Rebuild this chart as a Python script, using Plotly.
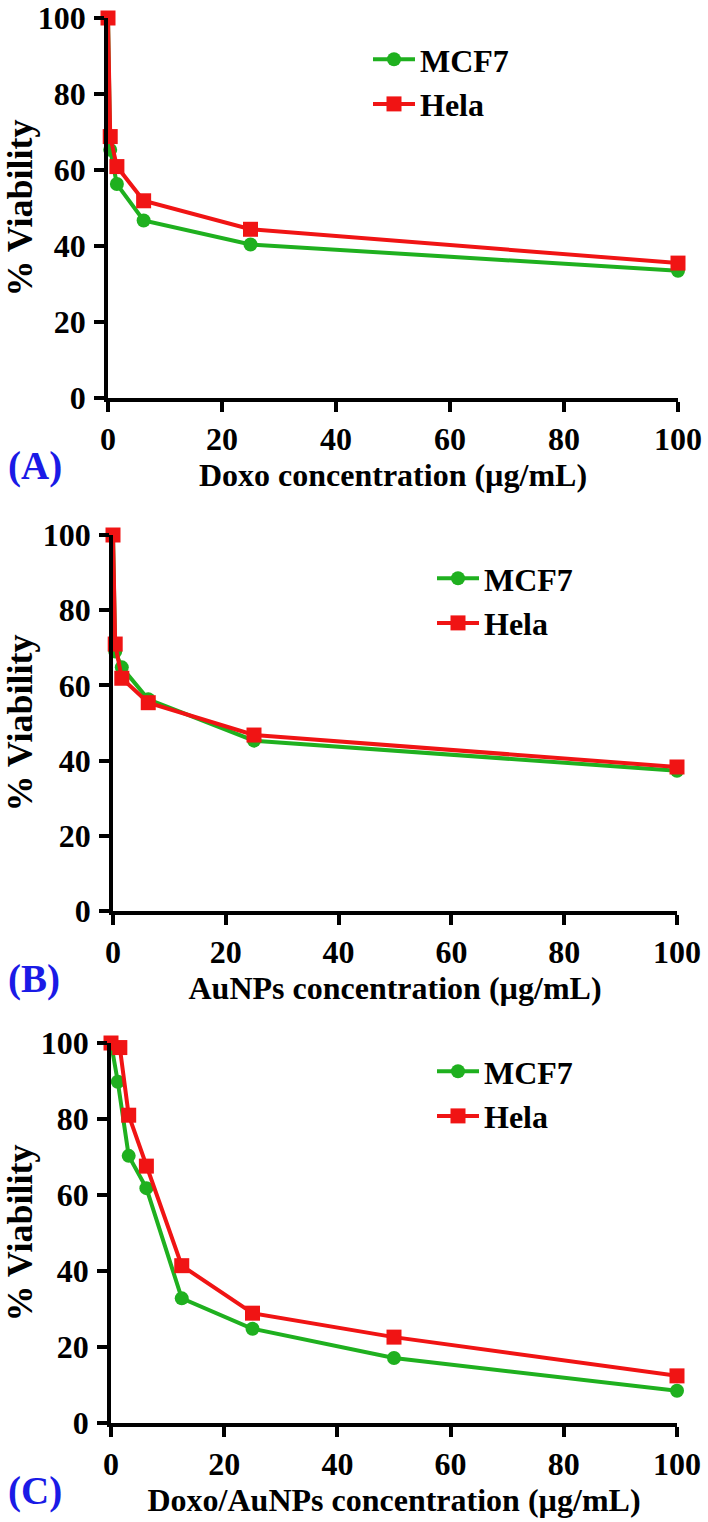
import plotly.graph_objects as go

# ---------------- data ----------------
conc_a = [0, 0.39, 1.56, 6.25, 25, 100]
mcf7_a = [100, 65.3, 56.3, 46.7, 40.4, 33.5]
hela_a = [100, 68.8, 60.9, 51.9, 44.4, 35.5]

conc_b = [0, 0.39, 1.56, 6.25, 25, 100]
mcf7_b = [100, 69.0, 64.8, 56.3, 45.3, 37.3]
hela_b = [100, 71.0, 61.9, 55.4, 46.8, 38.3]

conc_c_mcf7 = [0, 1.2, 3.125, 6.25, 12.5, 25, 50, 100]
mcf7_c = [100, 89.8, 70.3, 61.8, 32.8, 24.8, 17.1, 8.5]
conc_c_hela = [0, 1.56, 3.125, 6.25, 12.5, 25, 50, 100]
hela_c = [100, 98.8, 81.0, 67.6, 41.4, 28.9, 22.6, 12.4]

x_titles = ["Doxo concentration (µg/mL)", "AuNPs concentration (µg/mL)",
            "Doxo/AuNPs concentration (µg/mL)"]
panel_labels = ["(A)", "(B)", "(C)"]
series_names = ["MCF7", "Hela"]
y_ticks = [0, 20, 40, 60, 80, 100]
x_ticks = [0, 20, 40, 60, 80, 100]

# ---------------- style ----------------
W, H = 708, 1522
FONT = "Liberation Serif, Times New Roman, serif"
GREEN = "#1FB01F"
RED = "#F01414"
BLUE = "#1A1AE6"

def py(p):
    return 1 - p / H

def px(p):
    return p / W

panels = [
    dict(top=18, bottom=398, left=108, right=678, leg_x=368, leg_y=32),
    dict(top=535, bottom=911, left=113, right=677, leg_x=432, leg_y=551),
    dict(top=1043, bottom=1423, left=111, right=677, leg_x=432, leg_y=1044),
]

data = [
    (conc_a, mcf7_a, conc_a, hela_a),
    (conc_b, mcf7_b, conc_b, hela_b),
    (conc_c_mcf7, mcf7_c, conc_c_hela, hela_c),
]

fig = go.Figure()
layout = dict(
    width=W, height=H,
    margin=dict(l=0, r=0, t=0, b=0, autoexpand=False),
    paper_bgcolor="white", plot_bgcolor="white",
    font=dict(family=FONT, color="black"),
    showlegend=True,
)
annotations = []

for i, (p, (xm, ym, xh, yh)) in enumerate(zip(panels, data)):
    n = "" if i == 0 else str(i + 1)
    xa, ya = "x" + n, "y" + n
    leg = "legend" + n
    fig.add_trace(go.Scatter(
        x=xm, y=ym, name=series_names[0], mode="lines+markers",
        line=dict(color=GREEN, width=4),
        marker=dict(symbol="circle", size=14, color=GREEN),
        xaxis=xa, yaxis=ya, legend=leg, legendgroup="m" + n,
        cliponaxis=False,
    ))
    fig.add_trace(go.Scatter(
        x=xh, y=yh, name=series_names[1], mode="lines+markers",
        line=dict(color=RED, width=4),
        marker=dict(symbol="square", size=15, color=RED),
        xaxis=xa, yaxis=ya, legend=leg, legendgroup="h" + n,
        cliponaxis=False,
    ))
    axis_common = dict(
        showline=True, linewidth=3.5, linecolor="black",
        ticks="outside", ticklen=10, tickwidth=3.5, tickcolor="black",
        showgrid=False, zeroline=False, automargin=False,
        tickfont=dict(family=FONT, size=32, weight="bold", color="black"),
        range=[0, 100],
    )
    layout["xaxis" + n] = dict(
        axis_common,
        domain=[px(p["left"]), px(p["right"])],
        anchor=ya, tickvals=x_ticks,
        title=dict(text=x_titles[i], standoff=2,
                   font=dict(family=FONT, size=32, weight="bold", color="black")),
    )
    layout["yaxis" + n] = dict(
        axis_common,
        domain=[py(p["bottom"]), py(p["top"])],
        anchor=xa, tickvals=y_ticks, ticklabelstandoff=2,
        title=dict(text="% Viability", standoff=4,
                   font=dict(family=FONT, size=36, weight="bold", color="black")),
    )
    layout[leg] = dict(
        x=px(p["leg_x"]), y=py(p["leg_y"]), xanchor="left", yanchor="top",
        bgcolor="rgba(0,0,0,0)", borderwidth=0,
        font=dict(family=FONT, size=32, weight="bold", color="black"),
        tracegroupgap=0, itemwidth=42,
    )
    annotations.append(dict(
        text=panel_labels[i], xref="paper", yref="paper",
        x=px(6), y=py(p["bottom"] + 68), xanchor="left", yanchor="middle",
        showarrow=False,
        font=dict(family=FONT, size=39, weight="bold", color=BLUE),
    ))

layout["annotations"] = annotations
fig.update_layout(**layout)
fig.write_html("out.html", config={"displayModeBar": False},
               post_script="document.body.style.margin='0';")
